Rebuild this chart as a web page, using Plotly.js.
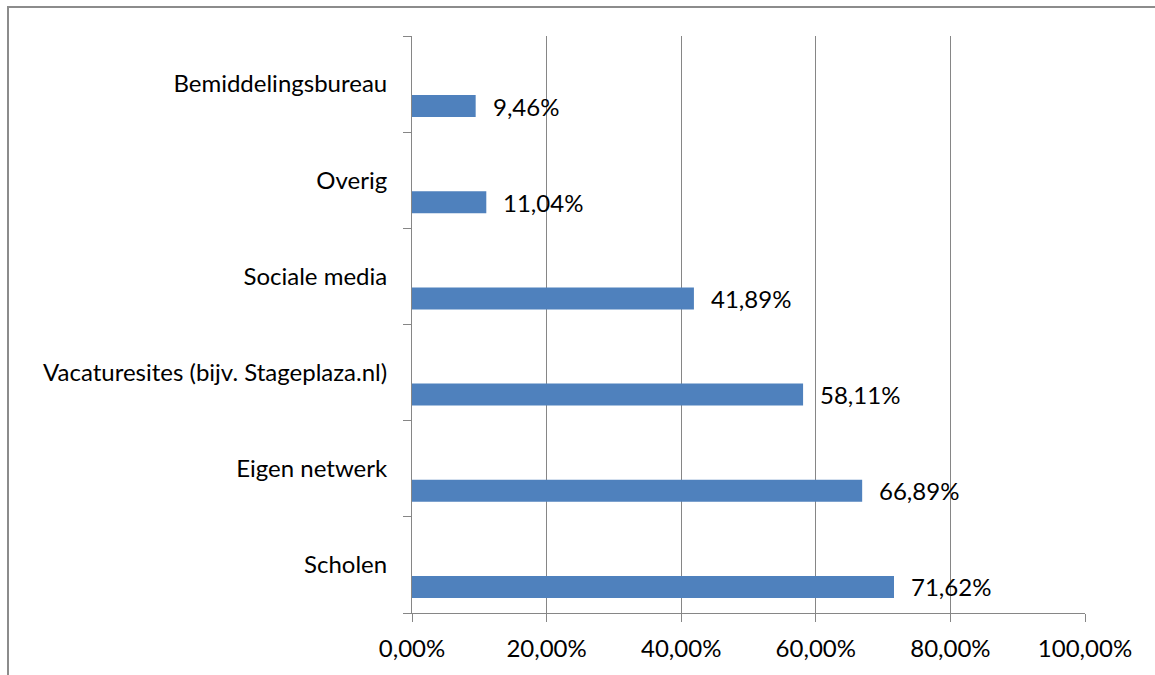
<!DOCTYPE html>
<html>
<head>
<meta charset="utf-8">
<script src="https://cdn.plot.ly/plotly-3.0.1.min.js"></script>
<style>
  html, body { margin: 0; padding: 0; background: #fff; }
  #wrap { position: relative; width: 1155px; height: 675px; }
  #chart { position: absolute; left: 0; top: 0; width: 1155px; height: 675px; }
  #frame { position: absolute; left: 7px; top: 6px; width: 1160px; height: 680px;
           border-left: 2px solid #8c8c8c; border-top: 2px solid #8c8c8c; pointer-events: none; }
</style>
</head>
<body>
<div id="wrap">
  <div id="chart"></div>
  <div id="frame"></div>
</div>
<script>
// Categories listed bottom to top
const categories = ['Scholen', 'Eigen netwerk', 'Vacaturesites (bijv. Stageplaza.nl)', 'Sociale media', 'Overig', 'Bemiddelingsbureau'];
const values = [71.62, 66.89, 58.11, 41.89, 11.04, 9.46];
const xTickValues = [0, 20, 40, 60, 80, 100];

const fontFamily = 'Lato, "Open Sans", sans-serif';
const fmt = v => v.toFixed(2).replace('.', ',') + '%';

const trace = {
  type: 'bar',
  orientation: 'h',
  y: categories,
  x: values,
  marker: { color: '#4F81BD', line: { width: 0 } },
  offset: -0.343,
  width: 0.229,
  hoverinfo: 'skip'
};

const annotations = categories.map((c, i) => ({
  x: values[i], y: c, xref: 'x', yref: 'y',
  text: fmt(values[i]), showarrow: false,
  xanchor: 'left', yanchor: 'middle',
  xshift: 15, yshift: -22,
  font: { family: fontFamily, size: 24, color: '#000' }
}));

const layout = {
  width: 1155, height: 675,
  margin: { l: 412, r: 70, t: 36, b: 62 },
  paper_bgcolor: '#fff', plot_bgcolor: '#fff',
  separators: ',.',
  showlegend: false,
  font: { family: fontFamily, size: 24, color: '#000' },
  xaxis: {
    range: [0, 100],
    tickvals: xTickValues,
    ticktext: xTickValues.map(fmt),
    showgrid: true, gridcolor: '#868686', gridwidth: 1,
    zeroline: false,
    showline: true, linecolor: '#868686', linewidth: 1,
    ticks: 'outside', ticklen: 8, tickcolor: '#868686', tickwidth: 1,
    ticklabelstandoff: 6,
    tickfont: { family: fontFamily, size: 24, color: '#000' },
    fixedrange: true
  },
  yaxis: {
    type: 'category',
    categoryorder: 'array', categoryarray: categories,
    range: [-0.5, 5.5],
    showgrid: false, zeroline: false,
    showline: true, linecolor: '#868686', linewidth: 1,
    ticks: 'outside', tickson: 'boundaries', ticklen: 8, tickcolor: '#868686', tickwidth: 1,
    ticklabelstandoff: 19,
    tickfont: { family: fontFamily, size: 24, color: '#000' },
    fixedrange: true
  },
  annotations: annotations
};

Plotly.newPlot('chart', [trace], layout, { displayModeBar: false, staticPlot: true });
</script>
</body>
</html>
